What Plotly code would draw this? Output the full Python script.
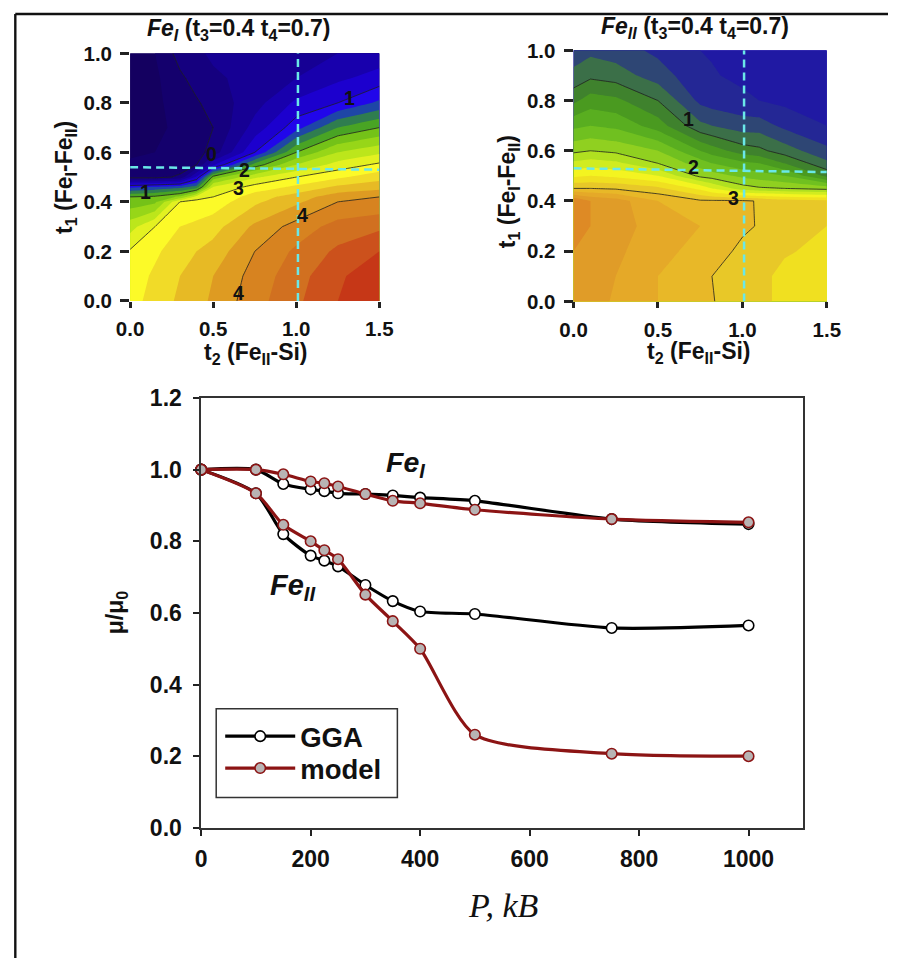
import plotly.graph_objects as go

W, H = 902, 971
FONT = "Liberation Sans"

# ---- contour panels -------------------------------------------------
t2_a = [0, .15, .3, .4, .5, .75, 1.0, 1.25, 1.5]
t1_a = [0, .1, .2, .3, .4, .42, .46, .5, .55, .6, .7, .8, .9, 1]
z_a_cols = [
    [3.15, 3.1, 3.03, 2.65, 2.1, 2.0, 1.2, -.1, -.2, -.3, -.3, -.3, -.3, -.3],
    [3.35, 3.3, 3.2, 3.0, 2.2, 2.05, 1.3, -.1, -.2, -.25, -.3, -.3, -.3, -.25],
    [3.55, 3.5, 3.4, 3.25, 3.0, 2.3, 1.4, .05, -.15, -.2, -.2, -.15, -.05, .1],
    [3.65, 3.6, 3.5, 3.3, 3.1, 2.85, 1.6, .8, .0, -.1, -.1, -.03, .1, .2],
    [3.8, 3.75, 3.6, 3.4, 3.1, 3.0, 2.75, 2.1, .7, .1, 0, .1, .2, .3],
    [4.15, 4.1, 4.0, 3.8, 3.45, 3.38, 3.1, 2.7, 1.85, 1.0, .6, .4, .35, .4],
    [4.45, 4.4, 4.3, 4.1, 3.7, 3.62, 3.3, 3.0, 2.5, 2.0, 1.15, .8, .5, .4],
    [4.75, 4.7, 4.55, 4.35, 4.0, 3.9, 3.55, 3.2, 2.85, 2.5, 1.75, 1.0, .7, .5],
    [5.0, 4.95, 4.75, 4.45, 4.05, 4.0, 3.65, 3.4, 3.05, 2.7, 2.0, 1.3, .85, .6],
]
t2_b = [0, .1, .25, .5, .75, .82, 1.0, 1.1, 1.25, 1.5]
t1_b = [0, .1, .2, .3, .4, .45, .5, .55, .6, .7, .8, .9, 1]
z_b_cols = [
    [3.6, 3.6, 3.6, 3.65, 3.8, 3.0, 2.55, 2.25, 1.95, 1.55, 1.15, .85, .7],
    [3.55, 3.55, 3.55, 3.6, 3.6, 3.0, 2.6, 2.3, 2.0, 1.6, 1.3, .95, .75],
    [3.35, 3.4, 3.45, 3.5, 3.5, 2.97, 2.55, 2.25, 1.95, 1.55, 1.25, .9, .7],
    [3.2, 3.2, 3.25, 3.3, 3.2, 2.85, 2.4, 2.0, 1.8, 1.3, 1.0, .7, .55],
    [3.05, 3.05, 3.15, 3.2, 3.03, 2.55, 1.95, 1.7, 1.4, .85, .55, .45, .4],
    [3.01, 3.0, 3.1, 3.15, 3.03, 2.4, 1.9, 1.6, 1.3, .8, .5, .42, .38],
    [2.9, 2.9, 2.95, 3.04, 3.03, 2.1, 1.75, 1.45, 1.1, .7, .45, .35, .3],
    [2.85, 2.85, 2.9, 2.985, 2.985, 2.03, 1.7, 1.4, 1.05, .7, .4, .33, .28],
    [2.75, 2.75, 2.82, 2.88, 2.9, 2.0, 1.6, 1.2, .9, .55, .35, .3, .27],
    [2.6, 2.62, 2.75, 2.8, 2.85, 1.93, 1.15, .85, .65, .4, .3, .27, .25],
]

def rows(cols):
    return [list(r) for r in zip(*cols)]

scale_a = [(-.5, "#14005a"), (-.1, "#14006e"), (.3, "#16008c"), (.7, "#1800b4"), (1.1, "#2200f0"),
           (1.35, "#1c40b0"), (1.55, "#2a7060"), (1.8, "#3c9a28"), (2.1, "#70c018"),
           (2.5, "#a8e018"), (2.85, "#e0f020"), (3.1, "#fdfd28"), (3.4, "#f0d828"),
           (3.7, "#e4b024"), (4.0, "#da8c20"), (4.4, "#d06e20"), (4.8, "#c83a18"), (5.25, "#bc2810")]
scale_b = [(0, "#1c0ab0"), (.45, "#22209c"), (.65, "#2a3a80"), (.85, "#3a6a50"), (1.05, "#3c7c30"),
           (1.3, "#4a9a20"), (1.6, "#60b820"), (1.9, "#90d020"), (2.2, "#c0e820"), (2.5, "#f4f420"),
           (2.7, "#f0e020"), (2.9, "#e8c828"), (3.2, "#e8b028"), (3.5, "#e09c28"), (4.0, "#dc7020")]

def norm(s):
    lo, hi = s[0][0], s[-1][0]
    return [[(v - lo) / (hi - lo), c] for v, c in s]

# ---- line chart ------------------------------------------------------
P = [0, 100, 150, 200, 225, 250, 300, 350, 400, 500, 750, 1000]
gga_fe1 = [1, 1, .96, .945, .94, .934, .932, .928, .922, .913, .862, .848]
model_fe1 = [1, 1.0, .987, .967, .962, .953, .932, .913, .906, .888, .862, .853]
gga_fe2 = [1, .934, .82, .76, .746, .73, .678, .633, .604, .597, .558, .565]
model_fe2 = [1, .934, .846, .80, .775, .75, .651, .577, .5, .26, .207, .2]

fig = go.Figure()

def fx(p): return ((p - 13) / .968) / W
def fy(p): return 1 - ((p - 10.5) / .977) / H

DOM = {
    "a": dict(x=(129, 378), y=(51, 299.5)),
    "b": dict(x=(572, 825), y=(48, 300)),
    "c": dict(x=(200, 801.5), y=(397, 828.5)),
}
AX = {"a": ("x", "y", "xaxis", "yaxis"), "b": ("x2", "y2", "xaxis2", "yaxis2"), "c": ("x3", "y3", "xaxis3", "yaxis3")}

for key, x, y, cols, sc, lo, hi, size in [
    ("a", t2_a, t1_a, z_a_cols, scale_a, -.5, 5.25, .25),
    ("b", t2_b, t1_b, z_b_cols, scale_b, 0, 4.0, .2),
]:
    xa, ya, _, _ = AX[key]
    z = rows(cols)
    fig.add_trace(go.Contour(x=x, y=y, z=z, xaxis=xa, yaxis=ya, showscale=False, hoverinfo="skip", showlegend=False,
                             colorscale=norm(sc), zmin=lo, zmax=hi, autocontour=False,
                             contours=dict(coloring="fill", start=lo, end=hi, size=size, showlines=False),
                             line=dict(width=0, smoothing=0)))
    fig.add_trace(go.Contour(x=x, y=y, z=z, xaxis=xa, yaxis=ya, showscale=False, hoverinfo="skip", showlegend=False,
                             autocontour=False,
                             contours=dict(coloring="none", start=0 if key == "a" else 1, end=4 if key == "a" else 3, size=1),
                             line=dict(width=0.8, color="#202020", smoothing=0)))

def add_series(x, y, color, mfill, name, show, legend="legend"):
    fig.add_trace(go.Scatter(x=x, y=y, xaxis="x3", yaxis="y3", mode="lines+markers", name=name, showlegend=show, legend=legend,
                             line=dict(color=color, width=3.2, shape="spline", smoothing=0.7),
                             marker=dict(size=10.5, color=mfill, line=dict(color=color, width=1.6)),
                             cliponaxis=False))

add_series(P, gga_fe1, "#000000", "#ffffff", "GGA", True)
add_series(P, gga_fe2, "#000000", "#ffffff", "GGA", False)
add_series(P, model_fe1, "#8c1414", "#b8b4b4", "model", True, "legend2")
add_series(P, model_fe2, "#8c1414", "#b8b4b4", "model", False, "legend2")

layout = dict(width=W, height=H, margin=dict(l=0, r=0, t=0, b=0), paper_bgcolor="white", plot_bgcolor="white",
              autosize=False, font=dict(family=FONT, color="#111111"), hovermode=False)

small_font = dict(family=FONT, size=20.5, color="#111111", weight="bold")
big_font = dict(family=FONT, size=23, color="#111111", weight="bold")
for key in "abc":
    _, _, xn, yn = AX[key]
    d = DOM[key]
    c = key == "c"
    f = big_font if c else small_font
    xdict = dict(domain=[fx(d["x"][0]), fx(d["x"][1])], anchor=AX[key][1], showgrid=False, zeroline=False,
                 ticks="outside", ticklen=6, tickwidth=1.5 if c else 2.5, tickcolor="#222222",
                 ticklabelstandoff=4,
                 tickfont=f, showline=c, linecolor="#333333", linewidth=1.5, mirror=c)
    ydict = dict(domain=[fy(d["y"][1]), fy(d["y"][0])], anchor=AX[key][0], showgrid=False, zeroline=False,
                 ticks="outside", ticklen=6 if c else 9, tickwidth=1.5 if c else 2.5, tickcolor="#222222",
                 ticklabelstandoff=7 if c else 4,
                 tickfont=f, showline=c, linecolor="#333333", linewidth=1.5, mirror=c)
    if c:
        xdict.update(range=[0, 1100], tickvals=[0, 200, 400, 600, 800, 1000], ticktext=["0", "200", "400", "600", "800", "1000"])
        ydict.update(range=[0, 1.2], tickvals=[0, .2, .4, .6, .8, 1, 1.2], tickformat=".1f")
    else:
        xdict.update(range=[0, 1.5], tickvals=[0, .5, 1, 1.5], tickformat=".1f")
        ydict.update(range=[0, 1], tickvals=[0, .2, .4, .6, .8, 1], tickformat=".1f")
    layout[xn] = xdict
    layout[yn] = ydict

leg = dict(xanchor="left", yanchor="top", bgcolor="rgba(0,0,0,0)", borderwidth=0,
           font=dict(family=FONT, size=27.5, color="#111111", weight="bold"),
           itemwidth=70, tracegroupgap=0, itemsizing="trace")
layout["legend"] = dict(x=fx(219), y=fy(712), **leg)
layout["legend2"] = dict(x=fx(219), y=fy(744), **leg)

ann = []
def text_px(x, y, s, size, **kw):
    ann.append(dict(x=fx(x), y=fy(y), xref="paper", yref="paper", text=s, showarrow=False, xanchor="center", yanchor="middle",
                    font=dict(family=kw.pop("family", FONT), size=size, color="#111111"), **kw))

text_px(238, 27, "<b><i>Fe<sub>I</sub></i> (t<sub>3</sub>=0.4 t<sub>4</sub>=0.7)</b>", 23)
text_px(693, 25, "<b><i>Fe<sub>II</sub></i> (t<sub>3</sub>=0.4 t<sub>4</sub>=0.7)</b>", 23)
text_px(255, 352, "<b>t<sub>2</sub> (Fe<sub>II</sub>-Si)</b>", 23)
text_px(697, 351, "<b>t<sub>2</sub> (Fe<sub>II</sub>-Si)</b>", 23)
text_px(65, 176, "<b>t<sub>1</sub> (Fe<sub>I</sub>-Fe<sub>II</sub>)</b>", 23, textangle=-90)
text_px(507, 190, "<b>t<sub>1</sub> (Fe<sub>I</sub>-Fe<sub>II</sub>)</b>", 23, textangle=-90)
text_px(404, 463, "<b><i>Fe<sub>I</sub></i></b>", 28.5)
text_px(291, 587, "<b><i>Fe<sub>II</sub></i></b>", 29)
text_px(115, 612, "<b>μ/μ<sub>0</sub></b>", 23, textangle=-90)
text_px(502, 906, "<i>P, kB</i>", 34, family="Liberation Serif")

labels_a = [("1", 1.32, .82), ("0", .49, .595), ("2", .69, .53), ("3", .65, .455), ("1", .09, .44), ("4", 1.04, .345), ("4", .65, .03)]
labels_b = [("1", .68, .725), ("2", .71, .535), ("3", .95, .41)]
for labs, xr, yr in [(labels_a, "x", "y"), (labels_b, "x2", "y2")]:
    for s, x, y in labs:
        ann.append(dict(x=x, y=y, xref=xr, yref=yr, text="<b>%s</b>" % s, showarrow=False,
                        font=dict(family=FONT, size=19.5, color="#111111")))
layout["annotations"] = ann

cy = dict(color="#6ae8e8", width=2.5, dash="8px,5px")
border = dict(color="#111111", width=2.4)
shapes = [
    dict(type="line", xref="x", yref="y", x0=0, x1=1.5, y0=.54, y1=.53, line=cy),
    dict(type="line", xref="x", yref="y", x0=1.01, x1=1.01, y0=0, y1=1, line=cy),
    dict(type="line", xref="x2", yref="y2", x0=0, x1=1.5, y0=.53, y1=.515, line=cy),
    dict(type="line", xref="x2", yref="y2", x0=1.01, x1=1.01, y0=0, y1=1, line=cy),
    dict(type="line", xref="paper", yref="paper", x0=0.0015, x1=1, y0=0.999, y1=0.999, line=border),
    dict(type="line", xref="paper", yref="paper", x0=0.0015, x1=0.0015, y0=0.999, y1=0, line=border),
    dict(type="rect", xref="paper", yref="paper", x0=fx(215), x1=fx(396), y0=fy(798), y1=fy(709),
         line=dict(color="#333333", width=1.5), fillcolor="white"),
]
layout["shapes"] = shapes

fig.update_layout(**layout)
fig.write_html("out.html", config={"displayModeBar": False},
               post_script="document.body.style.margin='0';")
